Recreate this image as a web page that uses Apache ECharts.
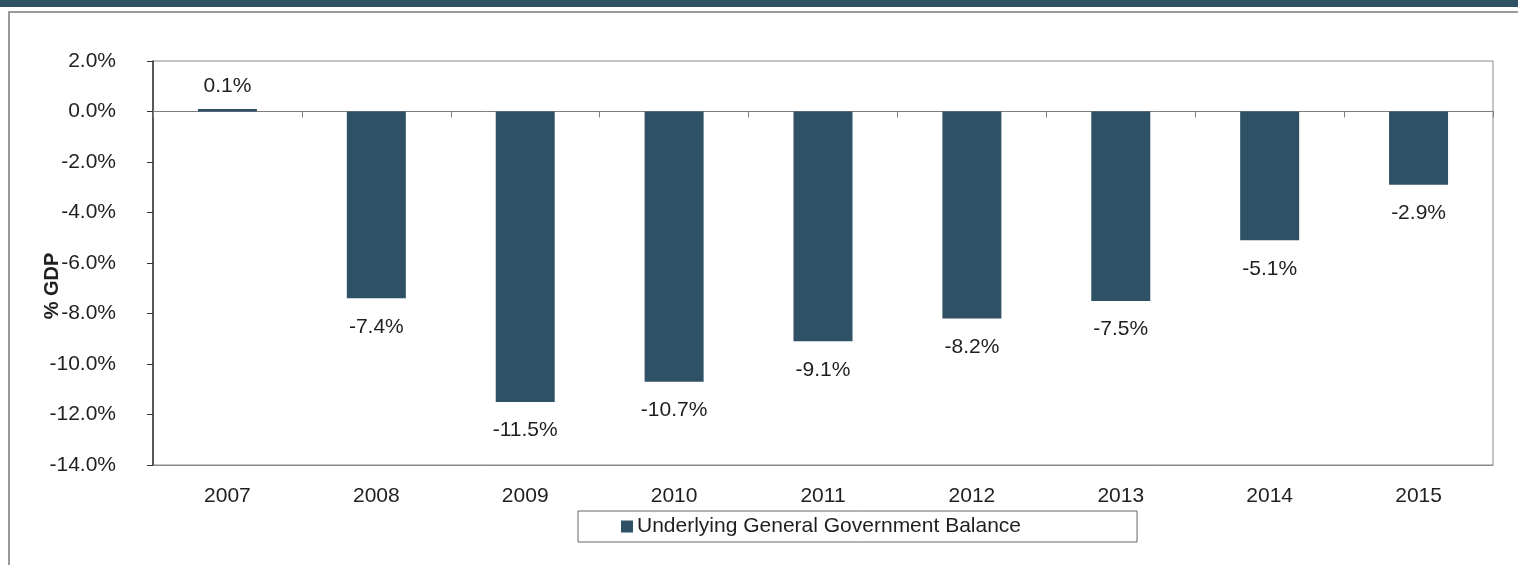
<!DOCTYPE html>
<html>
<head>
<meta charset="utf-8">
<title>Underlying General Government Balance</title>
<script src="https://cdn.jsdelivr.net/npm/echarts@6/dist/echarts.min.js"></script>
<style>
  html, body { margin: 0; padding: 0; background: #fff; }
  #chart { width: 1518px; height: 565px; }
</style>
</head>
<body>
<div id="chart"></div>
<script>
// Years on the category axis
const years = ['2007', '2008', '2009', '2010', '2011', '2012', '2013', '2014', '2015'];
// Underlying general government balance, % of GDP
const balance = [0.1, -7.4, -11.5, -10.7, -9.1, -8.2, -7.5, -5.1, -2.9];
// Value axis range and step (% GDP)
const yMin = -14;
const yMax = 2;
const yStep = 2;
const seriesName = 'Underlying General Government Balance';

const FONT = '"Liberation Sans", Arial, sans-serif';
const BAR = '#2f5166';
const TEXT = '#1f1f1f';
const FS = 21;

const chart = echarts.init(document.getElementById('chart'), null, { renderer: 'canvas' });

chart.setOption({
  animation: false,
  backgroundColor: '#fff',
  textStyle: { fontFamily: FONT },
  graphic: [
    // header band
    { type: 'rect', left: 0, top: 0, shape: { x: 0, y: 0, width: 1518, height: 7 }, style: { fill: BAR }, silent: true },
    // outer frame
    { type: 'polyline', shape: { points: [[9, 565], [9, 12], [1518, 12]] }, style: { stroke: '#9a9a9a', lineWidth: 2, fill: null }, silent: true }
  ],
  grid: {
    left: 153, right: 25, top: 61, bottom: 100,
    show: true, borderColor: '#8a8a8a', borderWidth: 1, backgroundColor: 'transparent'
  },
  legend: {
    data: [seriesName],
    left: 578, top: 511,
    padding: [5, 116, 5, 43],
    borderColor: '#666', borderWidth: 1,
    itemWidth: 12, itemHeight: 12, itemGap: 4,
    icon: 'rect',
    textStyle: { fontFamily: FONT, fontSize: FS, color: TEXT, padding: [0, 0, 0, -1] }
  },
  xAxis: [
    {
      // zero line with boundary ticks
      type: 'category', data: years,
      axisLine: { onZero: true, lineStyle: { color: '#7f7f7f', width: 1 } },
      axisTick: { show: true, length: 6, lineStyle: { color: '#7f7f7f' } },
      axisLabel: { show: false },
      splitLine: { show: false }
    },
    {
      // category labels along the bottom edge
      type: 'category', data: years, position: 'bottom',
      axisLine: { onZero: false, lineStyle: { color: '#8a8a8a' } },
      axisTick: { show: false },
      axisLabel: { fontFamily: FONT, fontSize: FS, color: TEXT, margin: 21 }
    }
  ],
  yAxis: {
    type: 'value', min: yMin, max: yMax, interval: yStep,
    name: '% GDP', nameLocation: 'middle', nameGap: 91, nameRotate: 90,
    nameMoveOverlap: false,
    nameTextStyle: { fontFamily: FONT, fontSize: 20, fontWeight: 'bold', color: TEXT, padding: [0, 0, 0, -46] },
    axisLine: { show: true, lineStyle: { color: '#333', width: 1.5 } },
    axisTick: { show: true, length: 6, inside: false, lineStyle: { color: '#333' } },
    axisLabel: {
      fontFamily: FONT, fontSize: FS, color: TEXT, margin: 37,
      formatter: v => v.toFixed(1) + '%'
    },
    splitLine: { show: false }
  },
  series: [{
    name: seriesName,
    type: 'bar',
    xAxisIndex: 0,
    // negative values carry their label beneath the bar
    data: balance.map(v => ({
      value: v,
      label: { position: v < 0 ? 'bottom' : 'top', distance: v < 0 ? 18 : 12 }
    })),
    barWidth: 59,
    itemStyle: { color: BAR },
    label: {
      show: true,
      fontFamily: FONT, fontSize: FS, color: TEXT,
      formatter: p => p.value.toFixed(1) + '%'
    }
  }]
});
</script>
</body>
</html>
